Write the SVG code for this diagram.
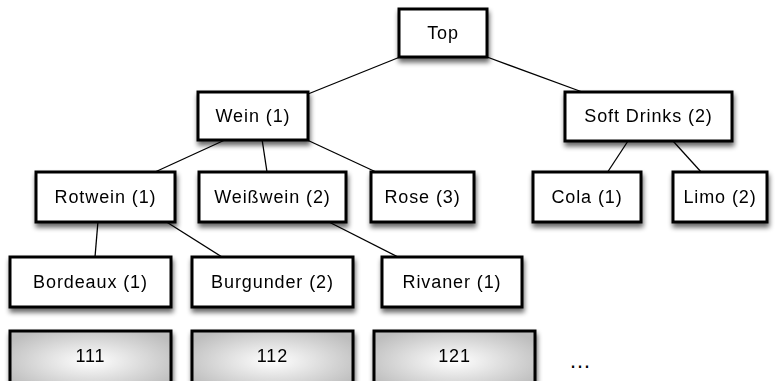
<svg xmlns="http://www.w3.org/2000/svg" width="777" height="381" viewBox="0 0 777 381">
<defs>
<filter id="sh" x="-20%" y="-30%" width="140%" height="170%">
<feGaussianBlur in="SourceAlpha" stdDeviation="2.5"/>
<feOffset dx="1" dy="4" result="b"/>
<feComponentTransfer><feFuncA type="linear" slope="0.6"/></feComponentTransfer>
<feMerge><feMergeNode/><feMergeNode in="SourceGraphic"/></feMerge>
</filter>
<radialGradient id="g" cx="50%" cy="50%" r="60%">
<stop offset="0" stop-color="#ffffff"/>
<stop offset="1" stop-color="#bdbdbd"/>
</radialGradient>
</defs>
<style>
.n rect{fill:#fff;stroke:#000;stroke-width:3}
.l rect{fill:url(#g);stroke:#000;stroke-width:3}
text{font-family:"Liberation Sans",Arial,sans-serif;font-size:18px;letter-spacing:0.9px;fill:#000;text-anchor:middle}
#edges line{stroke:#000;stroke-width:1.3}
</style>
<rect width="777" height="381" fill="#fff"/>
<g id="edges">
<line x1="400" y1="57" x2="308" y2="94"/>
<line x1="487" y1="57" x2="585" y2="93"/>
<line x1="227" y1="139" x2="155" y2="172"/>
<line x1="262" y1="139" x2="267" y2="172"/>
<line x1="305" y1="139" x2="376" y2="172"/>
<line x1="628" y1="141" x2="607" y2="173"/>
<line x1="673" y1="141" x2="702" y2="173"/>
<line x1="98" y1="221" x2="95" y2="257"/>
<line x1="165" y1="221" x2="222" y2="257"/>
<line x1="327" y1="221" x2="398" y2="257"/>
</g>
<g id="top" class="n" filter="url(#sh)"><rect x="399" y="9" width="88" height="48"/><text x="443" y="39">Top</text></g>
<g id="wein" class="n" filter="url(#sh)"><rect x="198" y="92" width="110" height="48"/><text x="253" y="122">Wein (1)</text></g>
<g id="softdrinks" class="n" filter="url(#sh)"><rect x="565" y="92" width="167" height="49"/><text x="648.5" y="122">Soft Drinks (2)</text></g>
<g id="rotwein" class="n" filter="url(#sh)"><rect x="36" y="172" width="139" height="50"/><text x="105.5" y="203">Rotwein (1)</text></g>
<g id="weisswein" class="n" filter="url(#sh)"><rect x="199" y="172" width="147" height="50"/><text x="272.5" y="203">Weißwein (2)</text></g>
<g id="rose" class="n" filter="url(#sh)"><rect x="371" y="172" width="103" height="50"/><text x="422.5" y="203">Rose (3)</text></g>
<g id="cola" class="n" filter="url(#sh)"><rect x="533" y="172" width="108" height="50"/><text x="587" y="203">Cola (1)</text></g>
<g id="limo" class="n" filter="url(#sh)"><rect x="673" y="172" width="94" height="50"/><text x="720" y="203">Limo (2)</text></g>
<g id="bordeaux" class="n" filter="url(#sh)"><rect x="10" y="257" width="161" height="50"/><text x="90.5" y="288">Bordeaux (1)</text></g>
<g id="burgunder" class="n" filter="url(#sh)"><rect x="192" y="257" width="161" height="50"/><text x="272.5" y="288">Burgunder (2)</text></g>
<g id="rivaner" class="n" filter="url(#sh)"><rect x="382" y="257" width="140" height="50"/><text x="452" y="288">Rivaner (1)</text></g>
<g id="leaf111" class="l" filter="url(#sh)"><rect x="10" y="331" width="161" height="60"/><text x="90.5" y="362">111</text></g>
<g id="leaf112" class="l" filter="url(#sh)"><rect x="192" y="331" width="161" height="60"/><text x="272.5" y="362">112</text></g>
<g id="leaf121" class="l" filter="url(#sh)"><rect x="374" y="331" width="161" height="60"/><text x="454.5" y="362">121</text></g>
<text x="580" y="368" style="font-size:22px;letter-spacing:0">…</text>
</svg>
